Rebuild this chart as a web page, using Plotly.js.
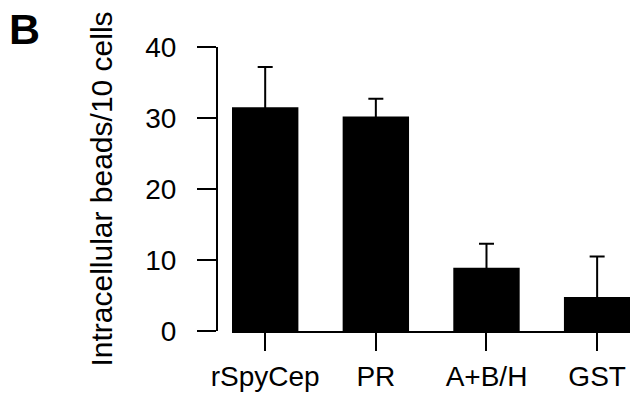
<!DOCTYPE html>
<html>
<head>
<meta charset="utf-8">
<script src="https://cdn.plot.ly/plotly-3.0.1.min.js"></script>
<style>html,body{margin:0;padding:0;background:#fff;}#chart{width:630px;height:394px;}</style>
</head>
<body>
<div id="chart"></div>
<script>
const categories = ["rSpyCep", "PR", "A+B/H", "GST"];
const beadsPer10Cells = [31.5, 30.2, 8.9, 4.8];
const errorSD = [5.7, 2.5, 3.4, 5.7];
const yTickValues = [0, 10, 20, 30, 40];

const FONT = "Liberation Sans, Arial, Helvetica, sans-serif";

const trace = {
  type: "bar",
  x: categories,
  y: beadsPer10Cells,
  width: 0.6,
  marker: {color: "#000000", line: {width: 0}},
  error_y: {
    type: "data",
    symmetric: true,
    array: errorSD,
    color: "#000000",
    thickness: 2,
    width: 7.5
  },
  hoverinfo: "none"
};

const layout = {
  width: 630,
  height: 394,
  margin: {l: 217, r: 0, t: 47, b: 63, pad: 0},
  paper_bgcolor: "#ffffff",
  plot_bgcolor: "#ffffff",
  showlegend: false,
  font: {family: FONT, color: "#000000", size: 28},
  xaxis: {
    domain: [15 / 413, 1],
    range: [-0.3, 3.297],
    showline: true,
    linecolor: "#000000",
    linewidth: 2,
    ticks: "outside",
    ticklen: 18,
    tickwidth: 2,
    tickcolor: "#000000",
    tickfont: {family: FONT, size: 28, color: "#000000"},
    ticklabelstandoff: 1,
    showgrid: false,
    zeroline: false,
    fixedrange: true
  },
  yaxis: {
    anchor: "free",
    position: 0,
    range: [0, 40],
    tickvals: yTickValues,
    ticktext: yTickValues.map(String),
    showline: true,
    linecolor: "#000000",
    linewidth: 2,
    ticks: "outside",
    ticklen: 19,
    tickwidth: 2,
    tickcolor: "#000000",
    tickfont: {family: FONT, size: 28, color: "#000000"},
    ticklabelstandoff: 15,
    showgrid: false,
    zeroline: false,
    automargin: false,
    title: {text: "Intracellular beads/10 cells", font: {family: FONT, size: 30, color: "#000000"}, standoff: 23},
    fixedrange: true
  },
  annotations: [{
    text: "<b>B</b>",
    xref: "paper", yref: "paper",
    x: -217 / 413, y: 1 + 47 / 284,
    xanchor: "left", yanchor: "top",
    xshift: 7, yshift: -3,
    showarrow: false,
    font: {family: FONT, size: 43, color: "#000000"}
  }]
};

Plotly.newPlot("chart", [trace], layout, {staticPlot: true, displayModeBar: false});
</script>
</body>
</html>
